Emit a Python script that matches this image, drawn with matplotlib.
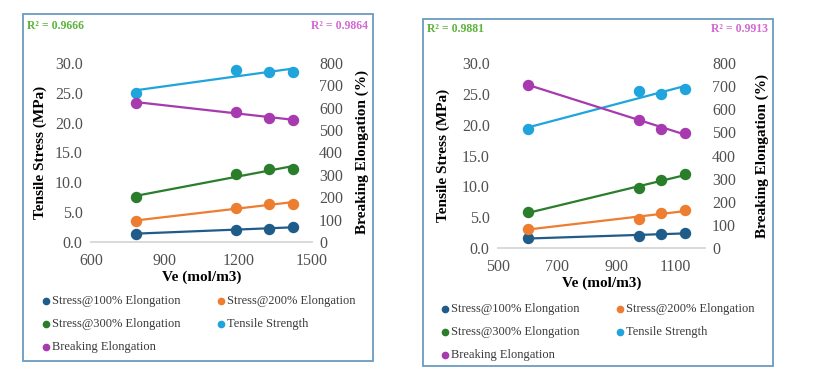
import numpy as np
import matplotlib
matplotlib.use("Agg")
from matplotlib import pyplot as plt
from matplotlib.patches import Rectangle

plt.rcParams['font.family'] = ['Liberation Serif', 'DejaVu Serif']

# data
ve_a = [785, 1191, 1323, 1422]
s100_a = [1.41, 2.08, 2.25, 2.50]
s200_a = [3.53, 5.78, 6.34, 6.45]
s300_a = [7.57, 11.33, 12.17, 12.28]
tensile_a = [25.05, 28.87, 28.42, 28.42]
breaking_a = [623, 583, 553, 546]
r2_a = ["R² = 0.9666", "R² = 0.9864"]
xticks_a = [600, 900, 1200, 1500]

ve_b = [602, 978, 1050, 1133]
s100_b = [1.57, 2.00, 2.27, 2.43]
s200_b = [3.08, 4.76, 5.68, 6.10]
s300_b = [5.78, 9.68, 11.03, 11.95]
tensile_b = [19.3, 25.4, 24.9, 25.8]
breaking_b = [706, 555, 514, 497]
r2_b = ["R² = 0.9881", "R² = 0.9913"]
xticks_b = [500, 700, 900, 1100]

series_names = ["Stress@100% Elongation", "Stress@200% Elongation",
                "Stress@300% Elongation", "Tensile Strength", "Breaking Elongation"]
colors = ["#1F5C8A", "#ED7D31", "#2A7D2A", "#1FA4DC", "#A63AAE"]
stress_ticks = [0, 5, 10, 15, 20, 25, 30]
elong_ticks = [0, 100, 200, 300, 400, 500, 600, 700, 800]

W, H = 828, 370
fig = plt.figure(figsize=(W / 100, H / 100), dpi=100)

# overlay in pixel coords for frames, legends and labels
ov = fig.add_axes([0, 0, 1, 1])
ov.set_xlim(0, W)
ov.set_ylim(H, 0)
ov.axis("off")
ov.patch.set_visible(False)


def px_rect(x0, y0, x1, y1):
    return [x0 / W, 1 - y1 / H, (x1 - x0) / W, (y1 - y0) / H]


def panel(box, plot, xlim, xticks, ve, stress, breaking, r2, lab, xpad):
    bx0, by0, bx1, by1 = box
    ov.add_patch(Rectangle((bx0, by0), bx1 - bx0, by1 - by0, fill=False,
                           edgecolor="#6A9BC3", lw=1.3))
    ax = fig.add_axes(px_rect(*plot))
    ax2 = ax.twinx()
    xs = np.array(ve, dtype=float)
    # linear trendlines plus the measured points
    for vals, c in zip(stress, colors[:4]):
        k, b = np.polyfit(xs, vals, 1)
        ax.plot([xs.min(), xs.max()], [k * xs.min() + b, k * xs.max() + b], color=c, lw=1.6)
        ax.plot(xs, vals, "o", color=c, ms=7.2)
    k, b = np.polyfit(xs, breaking, 1)
    ax2.plot([xs.min(), xs.max()], [k * xs.min() + b, k * xs.max() + b], color=colors[4], lw=1.6)
    ax2.plot(xs, breaking, "o", color=colors[4], ms=7.2)

    ax.set_xlim(*xlim)
    ax.set_xticks(xticks)
    ax.set_ylim(0, 30)
    ax.set_yticks(stress_ticks)
    ax.set_yticklabels([f"{v:.1f}" for v in stress_ticks])
    ax2.set_ylim(0, 800)
    ax2.set_yticks(elong_ticks)
    for a in (ax, ax2):
        for s in ("top", "left", "right"):
            a.spines[s].set_visible(False)
        a.spines["bottom"].set_color("#D9D9D9")
        a.spines["bottom"].set_linewidth(1.2)
        a.tick_params(axis="both", length=0, labelsize=11.5, labelcolor="#505050")
        a.patch.set_visible(False)
    ax.tick_params(axis="y", pad=6)
    ax2.tick_params(axis="y", pad=5)
    ax.tick_params(axis="x", pad=xpad)

    # axis titles and R² labels
    ov.text(lab[0], (plot[1] + plot[3]) / 2, "Tensile Stress (MPa)", rotation=90,
            ha="center", va="center", fontsize=11, fontweight="bold")
    ov.text(lab[1], (plot[1] + plot[3]) / 2, "Breaking Elongation (%)", rotation=90,
            ha="center", va="center", fontsize=11, fontweight="bold")
    ov.text((plot[0] + plot[2]) / 2, lab[2], "Ve (mol/m3)", ha="center", va="center",
            fontsize=11, fontweight="bold")
    ov.text(bx0 + 4, lab[3], r2[0], ha="left", va="center", fontsize=8.5,
            fontweight="bold", color="#5DB33C")
    ov.text(bx1 - 5, lab[3], r2[1], ha="right", va="center", fontsize=8.5,
            fontweight="bold", color="#D36AD3")

    # legend, filled row by row like the original
    lx, ly = lab[4], lab[5]
    for i, name in enumerate(series_names):
        x = lx + (i % 2) * 175
        y = ly + (i // 2) * 23
        ov.plot([x], [y], "o", color=colors[i], ms=4.5)
        ov.text(x + 6, y, name, ha="left", va="center", fontsize=9, color="#3A3A3A")


panel((23, 14, 373, 361), (91, 63, 312, 242), (600, 1500), xticks_a, ve_a,
      [s100_a, s200_a, s300_a, tensile_a], breaking_a, r2_a,
      (40, 362, 277, 26, 46, 301), 8)
panel((423, 19, 773, 366), (498, 63, 705, 248), (500, 1200), xticks_b, ve_b,
      [s100_b, s200_b, s300_b, tensile_b], breaking_b, r2_b,
      (443, 762, 283, 29, 445, 309), 8)

fig.savefig("out.png", dpi=100)
